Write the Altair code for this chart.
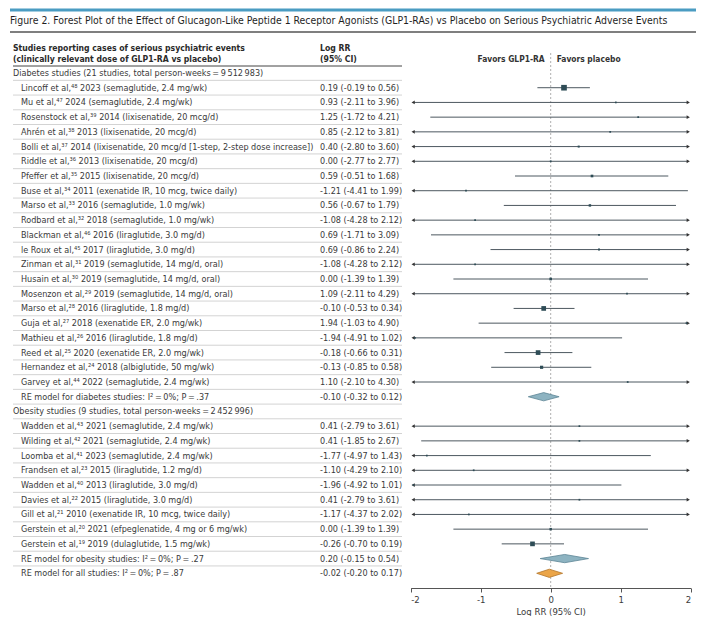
import altair as alt
import pandas as pd

TITLE = ("Figure 2. Forest Plot of the Effect of Glucagon-Like Peptide 1 Receptor Agonists "
         "(GLP1-RAs) vs Placebo on Serious Psychiatric Adverse Events")

group_headers = [
    "Diabetes studies (21 studies, total person-weeks\u2009=\u20099\u2009512\u2009983)",
    "Obesity studies (9 studies, total person-weeks\u2009=\u20092\u2009452\u2009996)",
]

diab_names = [
    "Lincoff et al,\u2074\u2078 2023 (semaglutide, 2.4 mg/wk)",
    "Mu et al,\u2074\u2077 2024 (semaglutide, 2.4 mg/wk)",
    "Rosenstock et al,\u00b3\u2079 2014 (lixisenatide, 20 mcg/d)",
    "Ahrén et al,\u00b3\u2078 2013 (lixisenatide, 20 mcg/d)",
    "Bolli et al,\u00b3\u2077 2014 (lixisenatide, 20 mcg/d [1-step, 2-step dose increase])",
    "Riddle et al,\u00b3\u2076 2013 (lixisenatide, 20 mcg/d)",
    "Pfeffer et al,\u00b3\u2075 2015 (lixisenatide, 20 mcg/d)",
    "Buse et al,\u00b3\u2074 2011 (exenatide IR, 10 mcg, twice daily)",
    "Marso et al,\u00b3\u00b3 2016 (semaglutide, 1.0 mg/wk)",
    "Rodbard et al,\u00b3\u00b2 2018 (semaglutide, 1.0 mg/wk)",
    "Blackman et al,\u2074\u2076 2016 (liraglutide, 3.0 mg/d)",
    "le Roux et al,\u2074\u2075 2017 (liraglutide, 3.0 mg/d)",
    "Zinman et al,\u00b3\u00b9 2019 (semaglutide, 14 mg/d, oral)",
    "Husain et al,\u00b3\u2070 2019 (semaglutide, 14 mg/d, oral)",
    "Mosenzon et al,\u00b2\u2079 2019 (semaglutide, 14 mg/d, oral)",
    "Marso et al,\u00b2\u2078 2016 (liraglutide, 1.8 mg/d)",
    "Guja et al,\u00b2\u2077 2018 (exenatide ER, 2.0 mg/wk)",
    "Mathieu et al,\u00b2\u2076 2016 (liraglutide, 1.8 mg/d)",
    "Reed et al,\u00b2\u2075 2020 (exenatide ER, 2.0 mg/wk)",
    "Hernandez et al,\u00b2\u2074 2018 (albiglutide, 50 mg/wk)",
    "Garvey et al,\u2074\u2074 2022 (semaglutide, 2.4 mg/wk)",
]
diab_est = [0.19, 0.93, 1.25, 0.85, 0.40, 0.00, 0.59, -1.21, 0.56, -1.08, 0.69,
            0.69, -1.08, 0.00, 1.09, -0.10, 1.94, -1.94, -0.18, -0.13, 1.10]
diab_lo = [-0.19, -2.11, -1.72, -2.12, -2.80, -2.77, -0.51, -4.41, -0.67, -4.28, -1.71,
           -0.86, -4.28, -1.39, -2.11, -0.53, -1.03, -4.91, -0.66, -0.85, -2.10]
diab_hi = [0.56, 3.96, 4.21, 3.81, 3.60, 2.77, 1.68, 1.99, 1.79, 2.12, 3.09,
           2.24, 2.12, 1.39, 4.29, 0.34, 4.90, 1.02, 0.31, 0.58, 4.30]
diab_weight = [32, 3, 3, 3, 4, 3, 7, 3, 6, 3, 3, 4, 3, 7, 3, 22, 3, 3, 22, 10, 3]

ob_names = [
    "Wadden et al,\u2074\u00b3 2021 (semaglutide, 2.4 mg/wk)",
    "Wilding et al,\u2074\u00b2 2021 (semaglutide, 2.4 mg/wk)",
    "Loomba et al,\u2074\u00b9 2023 (semaglutide, 2.4 mg/wk)",
    "Frandsen et al,\u00b2\u00b3 2015 (liraglutide, 1.2 mg/d)",
    "Wadden et al,\u2074\u2070 2013 (liraglutide, 3.0 mg/d)",
    "Davies et al,\u00b2\u00b2 2015 (liraglutide, 3.0 mg/d)",
    "Gill et al,\u00b2\u00b9 2010 (exenatide IR, 10 mcg, twice daily)",
    "Gerstein et al,\u00b2\u2070 2021 (efpeglenatide, 4 mg or 6 mg/wk)",
    "Gerstein et al,\u00b9\u2079 2019 (dulaglutide, 1.5 mg/wk)",
]
ob_est = [0.41, 0.41, -1.77, -1.10, -1.96, 0.41, -1.17, 0.00, -0.26]
ob_lo = [-2.79, -1.85, -4.97, -4.29, -4.92, -2.79, -4.37, -1.39, -0.70]
ob_hi = [3.61, 2.67, 1.43, 2.10, 1.01, 3.61, 2.02, 1.39, 0.19]
ob_weight = [3, 3, 3, 3, 3, 3, 3, 6, 22]

re_labels = [
    "RE model for diabetes studies: I\u00b2\u2009=\u20090%; P\u2009=\u2009.37",
    "RE model for obesity studies: I\u00b2\u2009=\u20090%; P\u2009=\u2009.27",
    "RE model for all studies: I\u00b2\u2009=\u20090%; P\u2009=\u2009.87",
]
re_est = [-0.10, 0.20, -0.02]
re_lo = [-0.32, -0.15, -0.20]
re_hi = [0.12, 0.54, 0.17]
re_fill = ["#8db3c1", "#8db3c1", "#eba548"]
re_stroke = ["#5d8595", "#5d8595", "#b4762a"]

# ---------- build tables ----------
def ci_text(e, l, h):
    return f"{e:.2f} ({l:.2f} to {h:.2f})"

rows = []
rows.append(dict(label=group_headers[0], kind="header"))
for n, e, l, h, w in zip(diab_names, diab_est, diab_lo, diab_hi, diab_weight):
    rows.append(dict(label=n, kind="study", est=e, lo=l, hi=h, w=w))
rows.append(dict(label=re_labels[0], kind="re", est=re_est[0], lo=re_lo[0], hi=re_hi[0], k=0))
rows.append(dict(label=group_headers[1], kind="header"))
for n, e, l, h, w in zip(ob_names, ob_est, ob_lo, ob_hi, ob_weight):
    rows.append(dict(label=n, kind="study", est=e, lo=l, hi=h, w=w))
rows.append(dict(label=re_labels[1], kind="re", est=re_est[1], lo=re_lo[1], hi=re_hi[1], k=1))
rows.append(dict(label=re_labels[2], kind="re", est=re_est[2], lo=re_lo[2], hi=re_hi[2], k=2))

for i, r in enumerate(rows):
    r["row"] = i
    r["sep"] = i + 0.5
    r["ci"] = ci_text(r["est"], r["lo"], r["hi"]) if r["kind"] != "header" else ""
    r["indent"] = 5 if r["kind"] == "header" else 13

df = pd.DataFrame(rows)
NROW = len(rows) - 1

studies = df[df.kind == "study"].copy()
XMIN, XMAX = -2.0, 2.0
studies["lo_c"] = studies["lo"].clip(lower=XMIN + 0.04)
studies["hi_c"] = studies["hi"].clip(upper=XMAX - 0.04)

arrows = []
for _, r in studies.iterrows():
    if r["lo"] < XMIN:
        arrows.append(dict(row=r["row"], x=XMIN + 0.035, shape="triangle-left"))
    if r["hi"] > XMAX:
        arrows.append(dict(row=r["row"], x=XMAX - 0.035, shape="triangle-right"))
arrows = pd.DataFrame(arrows)

dia = []
for _, r in df[df.kind == "re"].iterrows():
    k = int(r["k"])
    for j, (xx, half) in enumerate([(r["lo"], 0.0), (r["est"], 0.28), (r["hi"], 0.0)]):
        dia.append(dict(row=int(r["row"]), xv=float(xx), ylo=float(r["row"] - half),
                        yhi=float(r["row"] + half), fillc=re_fill[k], strokec=re_stroke[k]))
dia = pd.DataFrame(dia)

seps = df[df.row < NROW]

FONT = "DejaVu Sans Condensed, DejaVu Sans, sans-serif"
TXT = "#3a3a3a"
LINE = "#4d5860"
FS = 9.0

yscale = alt.Scale(domain=[0, NROW], range=[65, 565.3], nice=False, zero=False)
xscale = alt.Scale(domain=[XMIN, XMAX], range=[402.7, 682.7], nice=False, zero=False)
xaxis = alt.Axis(values=[-2, -1, 0, 1, 2], labelExpr="'' + datum.value",
                 title="Log RR (95% CI)",
                 grid=False, domainColor="#555", tickColor="#555", tickSize=4,
                 labelFont=FONT, labelFontSize=9.5, labelColor=TXT, labelPadding=2,
                 titleFont=FONT, titleFontSize=9.5, titleFontWeight="normal",
                 titleColor=TXT, titlePadding=3)
Y = lambda f: alt.Y(f, type="quantitative", scale=yscale, axis=None, stack=None)
X = lambda f: alt.X(f, type="quantitative", scale=xscale, axis=xaxis, stack=None)

W, H = 690, 580

# decorations
deco = pd.DataFrame({"k": [0]})
top_bar = alt.Chart(deco).mark_rule(color="#4a9cc2", strokeWidth=3).encode(
    x=alt.value(2), x2=alt.value(688), y=alt.value(2))
title = alt.Chart(deco).mark_text(align="left", baseline="middle", font=FONT,
                                  fontSize=10.4, color="#1f1f1f").encode(
    x=alt.value(2), y=alt.value(13), text=alt.value(TITLE))
title_rule = alt.Chart(deco).mark_rule(color="#555", strokeWidth=1.5).encode(
    x=alt.value(2), x2=alt.value(688), y=alt.value(24))

hdr = pd.DataFrame({
    "t": ["Studies reporting cases of serious psychiatric events",
          "(clinically relevant dose of GLP1-RA vs placebo)", "Log RR", "(95% CI)"],
    "xp": [5, 5, 312, 312], "yp": [40, 51, 40, 51]})
headers = alt.Chart(hdr).mark_text(align="left", baseline="middle", font=FONT,
                                   fontSize=8.6, fontWeight="bold", color="#2a2a2a").encode(
    x=alt.X("xp:Q", scale=None), y=alt.Y("yp:Q", scale=None), text="t:N")
hdr_rule = alt.Chart(deco).mark_rule(color="#444", strokeWidth=1).encode(
    x=alt.value(5), x2=alt.value(394), y=alt.value(58))

fav = pd.DataFrame({"x": [0.0, 0.0], "t": ["Favors GLP1-RA", "Favors placebo"]})
fav_l = alt.Chart(fav.iloc[[0]]).mark_text(align="right", baseline="middle", dx=-6,
                                           font=FONT, fontSize=8.4, fontWeight="bold",
                                           color="#333").encode(
    x=X("x"), y=alt.value(51), text="t:N")
fav_r = alt.Chart(fav.iloc[[1]]).mark_text(align="left", baseline="middle", dx=6,
                                           font=FONT, fontSize=8.4, fontWeight="bold",
                                           color="#333").encode(
    x=X("x"), y=alt.value(51), text="t:N")
zero = alt.Chart(fav.iloc[[0]]).mark_rule(color="#9a9a9a", strokeDash=[2, 2],
                                          strokeWidth=0.8).encode(
    x=X("x"), y=alt.value(45), y2=alt.value(H))

sep_rules = alt.Chart(seps).mark_rule(color="#c8c8c8", strokeWidth=0.8).encode(
    x=alt.value(5), x2=alt.value(394), y=Y("sep"))

labels = alt.Chart(df).mark_text(align="left", baseline="middle", font=FONT,
                                 fontSize=FS, color=TXT).encode(
    x=alt.X("indent:Q", scale=None), y=Y("row"), text="label:N")
cis = alt.Chart(df).mark_text(align="left", baseline="middle", font=FONT,
                              fontSize=FS, color=TXT).encode(
    x=alt.value(312), y=Y("row"), text="ci:N")

ci_lines = alt.Chart(studies).mark_rule(color=LINE, strokeWidth=1).encode(
    x=X("lo_c"), x2="hi_c:Q", y=Y("row"))
arrow_pts = alt.Chart(arrows).mark_point(filled=True, opacity=1, color="#333").encode(
    x=X("x"), y=Y("row"), shape=alt.Shape("shape:N", scale=None),
    size=alt.value(14))
squares = alt.Chart(studies).mark_point(shape="square", filled=True, opacity=1,
                                        color="#2e4c56").encode(
    x=X("est"), y=Y("row"), size=alt.Size("w:Q", scale=None))
diamonds = alt.Chart(dia).mark_area(orient="vertical", strokeWidth=0.8, opacity=1).encode(
    x=X("xv"), y=Y("ylo"), y2="yhi:Q", detail="row:N",
    fill=alt.Fill("fillc:N", scale=None), stroke=alt.Stroke("strokec:N", scale=None))

chart = alt.layer(
    top_bar, title, title_rule, headers, hdr_rule, sep_rules, zero, fav_l, fav_r,
    labels, cis, ci_lines, arrow_pts, squares, diamonds
).properties(width=W, height=H, padding=0, background="white").configure_view(stroke=None)

chart.save("out.html", embed_options={"renderer": "svg", "actions": False})
